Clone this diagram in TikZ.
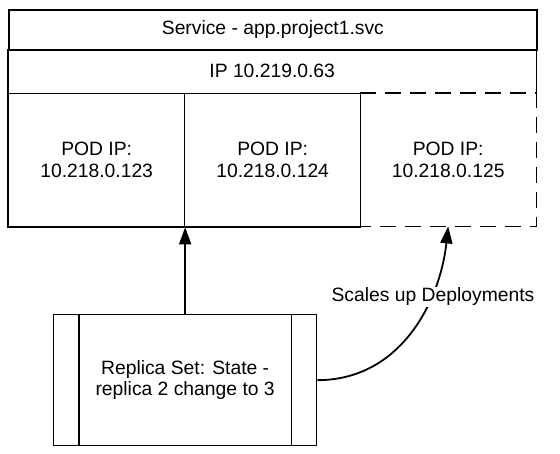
\documentclass[tikz,border=0pt]{standalone}
\usepackage{fontspec}
\setmainfont{Liberation Sans}
\usetikzlibrary{arrows.meta}
\begin{document}
\begin{tikzpicture}[x=1pt,y=-1pt,
  txt/.style={font=\fontsize{19.3}{21.7}\selectfont, align=center},
  cell/.style={txt, draw, line width=1.3pt, anchor=north west, inner sep=0pt},
  bare/.style={txt, anchor=north west, inner sep=0pt},
  dashline/.style={line width=1.6pt, dash pattern=on 16pt off 9pt},
  link/.style={line width=1.8pt, -{Triangle[length=17pt,width=12pt]}},
  lbl/.style={txt, fill=white, inner sep=1pt}]
\useasboundingbox (0,0) rectangle (560,453);
% service header
\node[cell, line width=1.8pt, minimum width=528pt, minimum height=40pt] (svc) at (8,9) {Service - app.project1.svc};
% IP row (outline drawn by hand)
\node[bare, minimum width=528pt, minimum height=44pt] (ip) at (8,49) {IP 10.219.0.63};
\draw[line width=1.8pt] (ip.south west) -- (ip.north west);
\draw[line width=1.8pt] (ip.north east) -- (ip.south east);
% pods
\node[cell, minimum width=176pt, minimum height=133pt] (pod1) at (8,93) {POD IP:\\10.218.0.123};
\node[cell, minimum width=176pt, minimum height=133pt] (pod2) at (184,93) {POD IP:\\10.218.0.124};
\node[bare, minimum width=176pt, minimum height=133pt] (pod3) at (360,93) {POD IP:\\10.218.0.125};
\draw[line width=1.8pt] (pod1.north west) -- (pod1.south west) -- (pod2.south east);
\draw[dashline] (pod3.north west) -- (pod3.north east) -- (pod3.south east) -- (pod3.south west);
% replica set
\node[cell, minimum width=263pt, minimum height=131pt] (rep) at (53,314) {Replica Set: State -\\replica 2 change to 3};
\draw[line width=1.3pt] ([xshift=26pt]rep.north west) -- ([xshift=26pt]rep.south west);
\draw[line width=1.3pt] ([xshift=-26pt]rep.north east) -- ([xshift=-26pt]rep.south east);
% connectors
\draw[link] (rep.north) -- (rep.north |- pod1.south);
\draw[link] (rep.east) .. controls +(84,0) and +(-8,74) .. (pod3.south);
\node[lbl] (scl) at (433,297) {Scales up Deployments};
\end{tikzpicture}
\end{document}
